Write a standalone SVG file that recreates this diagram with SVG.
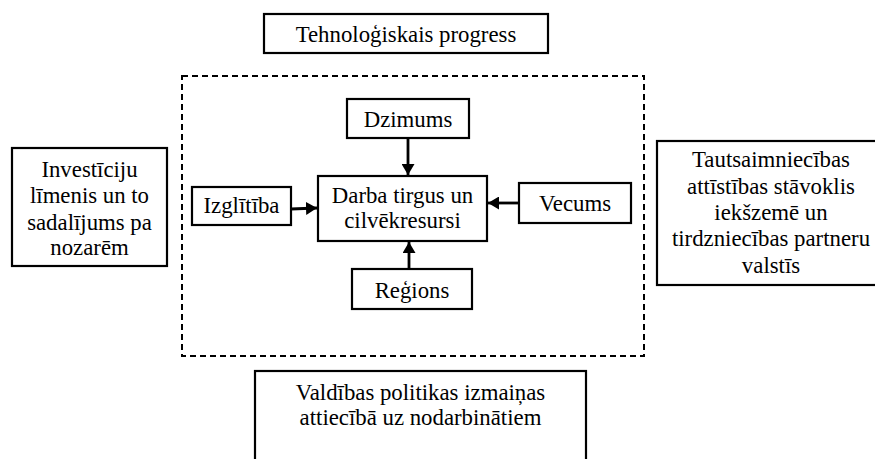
<svg xmlns="http://www.w3.org/2000/svg" width="875" height="459" viewBox="0 0 875 459" font-family="'Liberation Serif', 'Times New Roman', Times, 'DejaVu Serif', serif">
<defs>
<style>
.box{fill:#fff;stroke:#000;stroke-width:2.2}
text{font-family:'Liberation Serif','Times New Roman',Times,'DejaVu Serif',serif;font-size:22.8px;fill:#000;text-anchor:middle}
.c{stroke:#000;stroke-width:2.8;fill:none}
</style>
<marker id="ah" markerUnits="userSpaceOnUse" markerWidth="12" markerHeight="13" refX="11" refY="6.5" orient="auto">
<path d="M0,0 L11,6.5 L0,13 Z" fill="#000"/>
</marker>
</defs>
<rect x="182" y="76" width="462" height="280" fill="none" stroke="#000" stroke-width="2" stroke-dasharray="6,4"/>
<g id="tehnologiskais">
<rect class="box" x="264" y="14" width="284" height="39"/>
<text x="406" y="42">Tehnoloģiskais progress</text>
</g>
<g id="dzimums">
<rect class="box" x="347" y="99" width="122" height="39"/>
<text x="408" y="127">Dzimums</text>
</g>
<g id="darba">
<rect class="box" x="318" y="176" width="169" height="65"/>
<text x="402.5" y="203">Darba tirgus un</text>
<text x="402.5" y="228">cilvēkresursi</text>
</g>
<g id="izglitiba">
<rect class="box" x="192" y="187" width="99" height="38"/>
<text x="241.5" y="213">Izglītība</text>
</g>
<g id="vecums">
<rect class="box" x="519" y="183" width="112" height="40"/>
<text x="575" y="211">Vecums</text>
</g>
<g id="regions">
<rect class="box" x="352" y="269" width="120" height="40"/>
<text x="412" y="298">Reģions</text>
</g>
<g id="investiciju">
<rect class="box" x="12" y="148" width="155" height="118"/>
<text x="89.5" y="177">Investīciju</text>
<text x="89.5" y="203">līmenis un to</text>
<text x="89.5" y="230">sadalījums pa</text>
<text x="89.5" y="255">nozarēm</text>
</g>
<g id="tautsaimniecibas">
<rect class="box" x="657" y="141" width="230" height="144"/>
<text x="771" y="167">Tautsaimniecības</text>
<text x="771" y="194">attīstības stāvoklis</text>
<text x="771" y="220">iekšzemē un</text>
<text x="771" y="246">tirdzniecības partneru</text>
<text x="771" y="273">valstīs</text>
</g>
<g id="valdibas">
<rect class="box" x="255" y="371" width="331" height="100"/>
<text x="420.5" y="400">Valdības politikas izmaiņas</text>
<text x="420.5" y="425">attiecībā uz nodarbinātiem</text>
</g>
<g id="connectors">
<line class="c" x1="408" y1="138" x2="408" y2="175" marker-end="url(#ah)"/>
<line class="c" x1="291" y1="209" x2="317" y2="208" marker-end="url(#ah)"/>
<line class="c" x1="519" y1="203" x2="488" y2="203" marker-end="url(#ah)"/>
<line class="c" x1="409" y1="269" x2="409" y2="242" marker-end="url(#ah)"/>
</g>
</svg>
